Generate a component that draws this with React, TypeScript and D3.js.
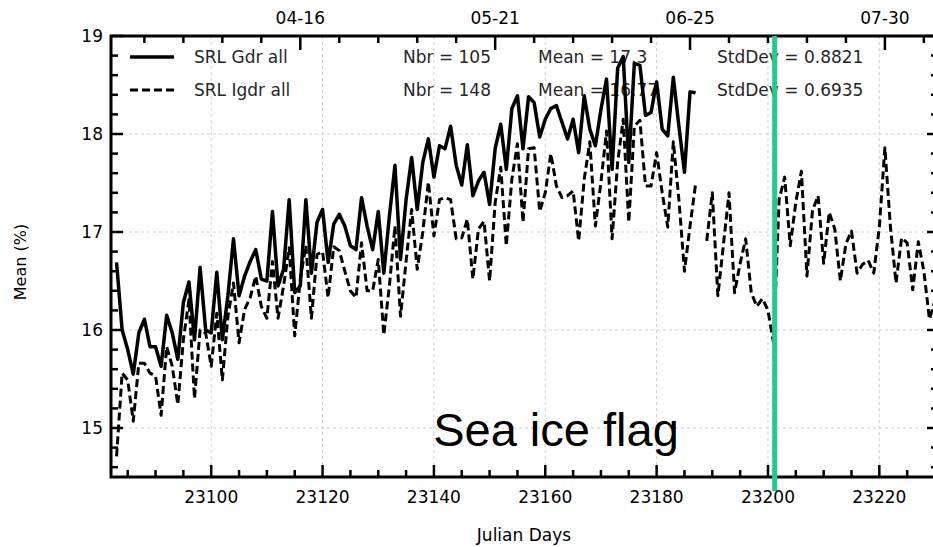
import React, { useEffect, useRef } from "react";
import * as d3 from "d3";

// julian days on the x axis
const gdrStart = 23083;
const igdrStart = 23083;

// SRL Gdr all, daily mean (%) from day 23083
const gdrValues = [
  16.69, 16.0, 15.8, 15.55, 15.97, 16.11, 15.83, 15.83, 15.63, 16.15,
  15.97, 15.7, 16.28, 16.49, 15.9, 16.64, 16.0, 15.97, 16.59, 15.9,
  16.35, 16.93, 16.35, 16.55, 16.7, 16.82, 16.52, 16.5, 17.21, 16.45,
  16.62, 17.33, 16.38, 16.45, 17.33, 16.58, 17.1, 17.23, 16.69, 17.08,
  17.18, 17.06, 16.86, 16.82, 17.35, 17.06, 16.82, 17.21, 16.58, 17.16,
  17.68, 16.72, 17.33, 17.76, 17.23, 17.71, 17.95, 17.56, 17.88, 17.85,
  18.08, 17.68, 17.48, 17.89, 17.37, 17.52, 17.61, 17.28, 17.85, 18.1,
  17.64, 18.26, 18.39, 17.85, 18.38, 18.32, 17.97, 18.15, 18.26, 18.29,
  18.12, 17.95, 18.15, 17.81, 18.39, 18.05, 17.88, 18.25, 18.56, 17.64,
  18.67, 18.79, 17.71, 18.72, 18.7, 18.19, 18.22, 18.53, 18.05, 17.98,
  18.58, 18.08, 17.61, 18.43, 18.42,
];

// SRL Igdr all, daily mean (%) from day 23083 (null = no data)
const igdrValues = [
  14.71, 15.56, 15.49, 15.07, 15.66, 15.66, 15.56, 15.53, 15.13, 15.83,
  15.63, 15.24, 15.9, 16.31, 15.3, 16.0, 15.97, 15.63, 16.17, 15.49,
  16.14, 16.48, 15.87, 16.21, 16.33, 16.55, 16.24, 16.12, 16.7, 16.12,
  16.45, 16.84, 15.94, 16.52, 16.86, 16.12, 16.77, 16.8, 16.33, 16.85,
  16.81, 16.6, 16.4, 16.33, 16.89, 16.4, 16.4, 16.72, 15.95, 16.45,
  17.06, 16.14, 16.7, 17.23, 16.62, 17.0, 17.51, 16.96, 17.33, 17.35,
  17.33, 16.93, 16.94, 17.13, 16.52, 17.03, 17.11, 16.5, 17.3, 17.66,
  16.86, 17.54, 17.9, 17.1, 17.85, 17.86, 17.21, 17.4, 17.8, 17.47,
  17.35, 17.37, 17.42, 16.91, 17.54, 17.92, 17.06, 17.51, 18.03, 16.93,
  17.71, 18.15, 17.1, 18.08, 18.14, 17.47, 17.47, 17.81, 17.4, 17.05,
  17.92, 17.33, 16.6, 17.06, 17.49, null, 16.91, 17.4, 16.35, 16.87,
  17.4, 16.38, 16.68, 16.93, 16.38, 16.24, 16.32, 16.2, 15.87, 17.33,
  17.56, 16.86, 17.3, 17.62, 16.55, 17.22, 17.37, 16.68, 17.2, 17.03,
  16.5, 16.88, 17.01, 16.58, 16.67, 16.71, 16.58, 17.05, 17.86, 17.05,
  16.48, 16.94, 16.89, 16.41, 16.9, 16.6, 16.11, 16.3,
];

const bottomTicks = [23100, 23120, 23140, 23160, 23180, 23200, 23220];
const topTicks = [23116, 23151, 23186, 23221];
const topLabels = ["04-16", "05-21", "06-25", "07-30"];
const yTicks = [15, 16, 17, 18, 19];

const seriesNames = ["SRL Gdr all", "SRL Igdr all"];
const seriesNbr = ["Nbr = 105", "Nbr = 148"];
const seriesMean = ["Mean = 17.3", "Mean = 16.77"];
const seriesStd = ["StdDev = 0.8821", "StdDev = 0.6935"];

const flagDay = 23201.2;
const flagText = "Sea ice flag";

const W = 933;
const H = 547;

export default function App() {
  const ref = useRef<SVGSVGElement>(null);

  useEffect(() => {
    const svg = d3.select(ref.current);
    svg.selectAll("*").remove();

    const left = 111, right = 935, top = 36, bottom = 477;
    const x = d3.scaleLinear().domain([23082, 23230]).range([left, right]);
    const y = d3.scaleLinear().domain([14.5, 19]).range([bottom, top]);
    const font = "DejaVu Sans, sans-serif";

    const clip = svg.append("defs").append("clipPath").attr("id", "plotclip");
    clip.append("rect").attr("x", left).attr("y", top).attr("width", right - left).attr("height", bottom - top);

    // grid
    const grid = svg.append("g").attr("stroke", "#cfcfcf").attr("stroke-width", 1).attr("stroke-dasharray", "3,3");
    grid.selectAll("line.v").data(bottomTicks).enter().append("line")
      .attr("x1", d => x(d)).attr("x2", d => x(d)).attr("y1", top).attr("y2", bottom);
    grid.selectAll("line.h").data(yTicks).enter().append("line")
      .attr("x1", left).attr("x2", right).attr("y1", d => y(d)).attr("y2", d => y(d));

    // legend texts (drawn under the data)
    const rows = [0, 1];
    const rowY = [57, 90];
    const txt = svg.append("g").attr("font-family", font).attr("font-size", 17).attr("fill", "#262626")
      .attr("dominant-baseline", "central");
    rows.forEach(i => {
      txt.append("text").attr("x", 194).attr("y", rowY[i]).text(seriesNames[i]);
      txt.append("text").attr("x", 403).attr("y", rowY[i]).text(seriesNbr[i]);
      txt.append("text").attr("x", 538).attr("y", rowY[i]).text(seriesMean[i]);
      txt.append("text").attr("x", 717).attr("y", rowY[i]).text(seriesStd[i]);
    });
    svg.append("line").attr("x1", 130).attr("x2", 174).attr("y1", rowY[0]).attr("y2", rowY[0])
      .attr("stroke", "#000").attr("stroke-width", 3.5);
    svg.append("line").attr("x1", 130).attr("x2", 174).attr("y1", rowY[1]).attr("y2", rowY[1])
      .attr("stroke", "#000").attr("stroke-width", 3).attr("stroke-dasharray", "8,4");

    svg.append("text").attr("x", 556).attr("y", 446).attr("text-anchor", "middle")
      .attr("font-family", "Liberation Sans, Arial, sans-serif").attr("font-size", 47).attr("fill", "#000")
      .text(flagText);

    // data
    const line = d3.line<[number, number | null]>()
      .defined(d => d[1] !== null)
      .x(d => x(d[0]))
      .y(d => y(d[1] as number));
    const gdr = gdrValues.map((v, i) => [gdrStart + i, v] as [number, number | null]);
    const igdr = igdrValues.map((v, i) => [igdrStart + i, v] as [number, number | null]);
    const plot = svg.append("g").attr("clip-path", "url(#plotclip)");
    plot.append("path").attr("d", line(igdr)).attr("fill", "none").attr("stroke", "#000")
      .attr("stroke-width", 3).attr("stroke-dasharray", "8,4").attr("stroke-linejoin", "round");
    plot.append("path").attr("d", line(gdr)).attr("fill", "none").attr("stroke", "#000")
      .attr("stroke-width", 3.5).attr("stroke-linejoin", "round");

    // ticks (inward)
    const ticks = svg.append("g").attr("stroke", "#000").attr("stroke-width", 2.5);
    const yMinor = d3.range(14.6, 19, 0.2).filter(v => Math.abs(v - Math.round(v)) > 0.01);
    ticks.selectAll("line.ylmaj").data(yTicks).enter().append("line")
      .attr("x1", left).attr("x2", left + 12).attr("y1", d => y(d)).attr("y2", d => y(d));
    ticks.selectAll("line.ylmin").data(yMinor).enter().append("line")
      .attr("x1", left).attr("x2", left + 7).attr("y1", d => y(d)).attr("y2", d => y(d));
    ticks.selectAll("line.yrmaj").data(yTicks).enter().append("line")
      .attr("x1", right).attr("x2", right - 8).attr("y1", d => y(d)).attr("y2", d => y(d));
    ticks.selectAll("line.yrmin").data(yMinor).enter().append("line")
      .attr("x1", right).attr("x2", right - 4).attr("y1", d => y(d)).attr("y2", d => y(d));
    const xMinor = d3.range(23085, 23231, 5).filter(d => d % 20 !== 0);
    ticks.selectAll("line.xbmaj").data(bottomTicks).enter().append("line")
      .attr("x1", d => x(d)).attr("x2", d => x(d)).attr("y1", bottom).attr("y2", bottom - 12);
    ticks.selectAll("line.xbmin").data(xMinor).enter().append("line")
      .attr("x1", d => x(d)).attr("x2", d => x(d)).attr("y1", bottom).attr("y2", bottom - 7);
    const topMinor = d3.range(23088, 23231, 7).filter(d => !topTicks.includes(d));
    ticks.selectAll("line.xtmaj").data(topTicks).enter().append("line")
      .attr("x1", d => x(d)).attr("x2", d => x(d)).attr("y1", top).attr("y2", top + 14);
    ticks.selectAll("line.xtmin").data(topMinor).enter().append("line")
      .attr("x1", d => x(d)).attr("x2", d => x(d)).attr("y1", top).attr("y2", top + 7);

    // spines
    svg.append("rect").attr("x", left).attr("y", top).attr("width", right - left).attr("height", bottom - top)
      .attr("fill", "none").attr("stroke", "#000").attr("stroke-width", 3);

    // flag line
    svg.append("line").attr("x1", x(flagDay)).attr("x2", x(flagDay)).attr("y1", top).attr("y2", 491)
      .attr("stroke", "#1fcc8e").attr("stroke-width", 5);

    // tick labels
    const lab = svg.append("g").attr("font-family", font).attr("font-size", 17).attr("fill", "#000");
    lab.selectAll("text.yl").data(yTicks).enter().append("text")
      .attr("x", left - 8).attr("y", d => y(d)).attr("text-anchor", "end").attr("dominant-baseline", "central")
      .text(d => d3.format("d")(d));
    lab.selectAll("text.xb").data(bottomTicks).enter().append("text")
      .attr("x", d => x(d)).attr("y", bottom + 26).attr("text-anchor", "middle")
      .text(d => String(d));
    lab.selectAll("text.xt").data(topTicks).enter().append("text")
      .attr("x", d => x(d)).attr("y", 24).attr("text-anchor", "middle")
      .text((d, i) => topLabels[i]);

    lab.append("text").attr("x", 524).attr("y", 541).attr("text-anchor", "middle").text("Julian Days");
    lab.append("text").attr("transform", `translate(26,262) rotate(-90)`).attr("text-anchor", "middle")
      .attr("font-size", 16).text("Mean (%)");
  }, []);

  return (
    <svg ref={ref} width={W} height={H} style={{ position: "absolute", left: 0, top: 0, background: "#fff" }} />
  );
}
